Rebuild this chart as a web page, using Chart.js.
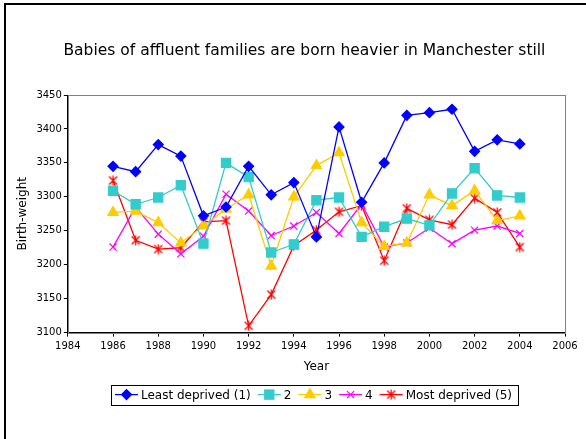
<!DOCTYPE html>
<html><head><meta charset="utf-8">
<script src="https://cdn.jsdelivr.net/npm/chart.js@4/dist/chart.umd.min.js"></script>
<style>html,body{margin:0;padding:0;background:#fff;}canvas{display:block;}</style>
</head><body>
<canvas id="c" width="586" height="439"></canvas>
<script>
// ---- data ----
const years = [1986,1987,1988,1989,1990,1991,1992,1993,1994,1995,1996,1997,1998,1999,2000,2001,2002,2003,2004];
const leastDeprived = [3345,3337,3377,3360,3272,3285,3345,3303,3321,3241,3403,3292,3350,3420,3424,3429,3367,3384,3378];
const group2 = [3309,3289,3299,3317,3231,3350,3329,3218,3230,3295,3299,3241,3256,3268,3258,3305,3342,3302,3299];
const group3 = [3277,3279,3262,3232,3257,3282,3303,3198,3300,3346,3365,3262,3227,3232,3303,3287,3309,3265,3272];
const group4 = [3226,3285,3245,3216,3242,3304,3279,3243,3257,3277,3246,3289,3226,3232,3254,3231,3251,3257,3246];
const mostDeprived = [3324,3236,3223,3225,3263,3265,3110,3156,3228,3251,3278,3287,3206,3283,3266,3259,3298,3277,3226];
const seriesNames = ['Least deprived (1)','2','3','4','Most deprived (5)'];
const xAxisRange = [1984, 2006];
const xAxisStep = 2;
const yAxisRange = [3100, 3450];
const yAxisStep = 50;
const chartTitle = 'Babies of affluent families are born heavier in Manchester still';
const xTitle = 'Year';
const yTitle = 'Birth-weight';

const FONT = '"DejaVu Sans", Verdana, sans-serif';

function starImg(color){
  const s = 11, c = document.createElement('canvas');
  c.width = s; c.height = s;
  const g = c.getContext('2d');
  g.strokeStyle = color; g.lineWidth = 1.3;
  g.beginPath();
  g.moveTo(1.5,1.5); g.lineTo(9.5,9.5);
  g.moveTo(9.5,1.5); g.lineTo(1.5,9.5);
  g.moveTo(5.5,0.5); g.lineTo(5.5,10.5);
  g.stroke();
  return c;
}

const styles = [
  {color:'#0000FF', point:'rectRot', r:5},
  {color:'#33CCCC', point:'rect', r:6.5},
  {color:'#FFCC00', point:'triangle', r:6},
  {color:'#FF00FF', point:'crossRot', r:5},
  {color:'#FF0000', point:starImg('#FF0000'), r:5}
];
const allSeries = [leastDeprived, group2, group3, group4, mostDeprived];

const datasets = allSeries.map((vals, i) => ({
  label: seriesNames[i],
  data: years.map((y, j) => ({x: y, y: vals[j]})),
  showLine: true,
  borderColor: styles[i].color,
  backgroundColor: styles[i].color,
  borderWidth: 1.3,
  pointStyle: styles[i].point,
  pointRadius: styles[i].r,
  pointHoverRadius: styles[i].r,
  pointBorderWidth: 1.2,
  tension: 0
}));

function drawMarker(ctx, i, x, y){
  const s = styles[i];
  ctx.save();
  ctx.fillStyle = s.color; ctx.strokeStyle = s.color; ctx.lineWidth = 1.2;
  const r = s.r;
  if (typeof s.point !== 'string') {
    ctx.drawImage(s.point, x - s.point.width/2, y - s.point.height/2);
  } else if (s.point === 'rectRot') {
    ctx.beginPath(); ctx.moveTo(x-r,y); ctx.lineTo(x,y-r); ctx.lineTo(x+r,y); ctx.lineTo(x,y+r); ctx.closePath(); ctx.fill(); ctx.stroke();
  } else if (s.point === 'rect') {
    const h = r*Math.SQRT1_2; ctx.fillRect(x-h,y-h,2*h,2*h); ctx.strokeRect(x-h,y-h,2*h,2*h);
  } else if (s.point === 'triangle') {
    ctx.beginPath();
    ctx.moveTo(x, y - r); ctx.lineTo(x + r*0.866, y + r*0.5); ctx.lineTo(x - r*0.866, y + r*0.5); ctx.closePath(); ctx.fill(); ctx.stroke();
  } else if (s.point === 'crossRot') {
    const h = r*Math.SQRT1_2;
    ctx.beginPath(); ctx.moveTo(x-h,y-h); ctx.lineTo(x+h,y+h); ctx.moveTo(x+h,y-h); ctx.lineTo(x-h,y+h); ctx.stroke();
  }
  ctx.restore();
}

const framePlugin = {
  id: 'frame',
  beforeDatasetsDraw(chart){
    const ca = chart.chartArea, ctx = chart.ctx;
    ctx.save();
    ctx.strokeStyle = '#808080'; ctx.lineWidth = 1;
    ctx.strokeRect(Math.round(ca.left)+0.5, Math.round(ca.top)+0.5, Math.round(ca.right-ca.left), Math.round(ca.bottom-ca.top));
    ctx.restore();
  },
  afterDraw(chart){
    const ctx = chart.ctx, ca = chart.chartArea;
    ctx.save();
    ctx.strokeStyle = '#000'; ctx.lineWidth = 2;
    ctx.strokeRect(5, 4, 800, 800);
    // title (centred like the original, slightly right of the canvas centre)
    ctx.fillStyle = '#000';
    ctx.font = '15.5px ' + FONT;
    ctx.textAlign = 'center'; ctx.textBaseline = 'middle';
    ctx.fillText(chartTitle, (ca.left + ca.right) / 2 - 12, ca.top - 44);
    // legend box
    ctx.font = '12px ' + FONT;
    const lineLen = 23, gapText = 3, gapItem = 7, padL = 4, padR = 6;
    const widths = seriesNames.map(n => ctx.measureText(n).width);
    let total = padL + padR;
    widths.forEach((w, i) => { total += lineLen + gapText + w + (i < widths.length-1 ? gapItem : 0); });
    const cx = (ca.left + ca.right) / 2 - 2;
    const cy = ca.bottom + 62;
    const x0 = Math.round(cx - total/2), h = 20;
    ctx.fillStyle = '#fff';
    ctx.fillRect(x0, cy - h/2, total, h);
    ctx.strokeStyle = '#000'; ctx.lineWidth = 1;
    ctx.strokeRect(x0 + 0.5, Math.round(cy - h/2) + 0.5, Math.round(total), h);
    let x = x0 + padL;
    ctx.textBaseline = 'middle'; ctx.textAlign = 'left';
    seriesNames.forEach((n, i) => {
      ctx.strokeStyle = styles[i].color; ctx.lineWidth = 1.3;
      ctx.beginPath(); ctx.moveTo(x, cy); ctx.lineTo(x + lineLen, cy); ctx.stroke();
      drawMarker(ctx, i, x + lineLen/2, cy);
      x += lineLen + gapText;
      ctx.fillStyle = '#000';
      ctx.fillText(n, x, cy + 1);
      x += widths[i] + gapItem;
    });
    ctx.restore();
  }
};

new Chart(document.getElementById('c'), {
  type: 'scatter',
  data: { datasets },
  plugins: [framePlugin],
  options: {
    responsive: false,
    animation: false,
    events: [],
    layout: { padding: { left: 12, right: 21, top: 95, bottom: 61 } },
    plugins: {
      legend: { display: false },
      tooltip: { enabled: false },
      title: { display: false }
    },
    scales: {
      x: {
        type: 'linear', min: xAxisRange[0], max: xAxisRange[1],
        ticks: { stepSize: xAxisStep, color: '#000', font: { family: FONT, size: 10 }, padding: 4, maxRotation: 0,
                 callback: v => String(v) },
        grid: { drawOnChartArea: false, drawTicks: true, tickLength: 4, color: '#000' },
        border: { color: '#000', width: 1 },
        title: { display: true, text: xTitle, color: '#000', font: { family: FONT, size: 12 }, padding: { top: 3, bottom: 4 } }
      },
      y: {
        type: 'linear', min: yAxisRange[0], max: yAxisRange[1],
        ticks: { stepSize: yAxisStep, color: '#000', font: { family: FONT, size: 10 }, padding: 2,
                 callback: v => String(v) },
        grid: { drawOnChartArea: false, drawTicks: true, tickLength: 4, color: '#000' },
        border: { color: '#000', width: 1 },
        title: { display: true, text: yTitle, color: '#000', font: { family: FONT, size: 12 }, padding: { top: 4, bottom: 4 } }
      }
    }
  }
});
</script>
</body></html>
